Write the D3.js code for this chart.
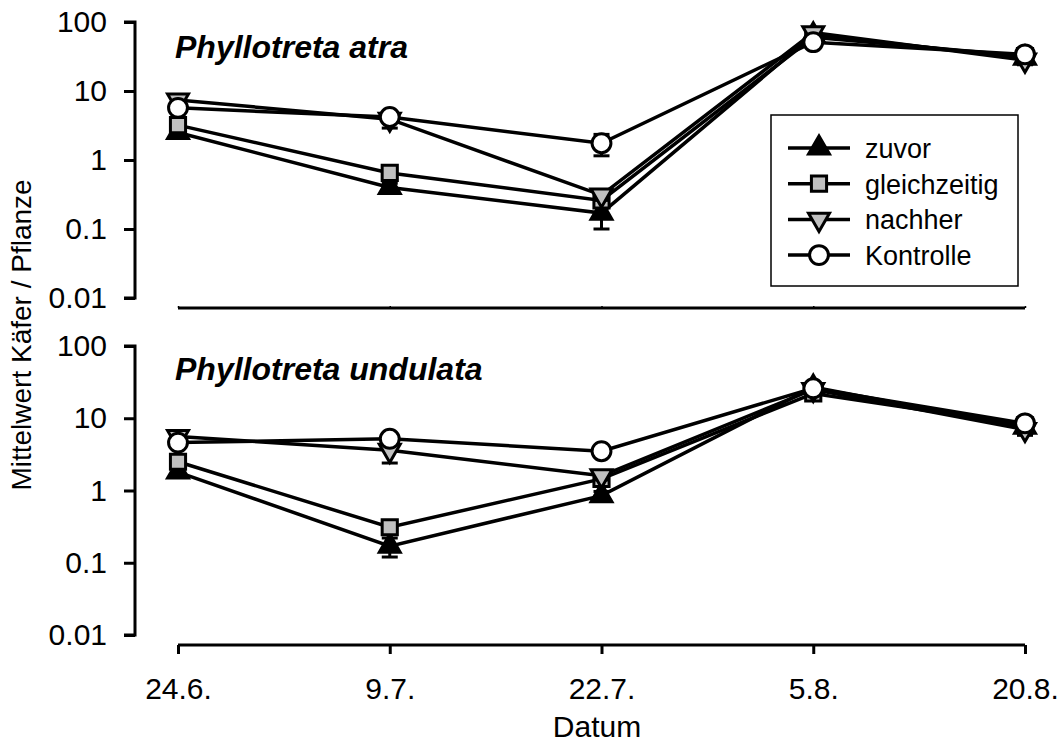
<!DOCTYPE html>
<html>
<head>
<meta charset="utf-8">
<script src="https://cdn.jsdelivr.net/npm/d3@7"></script>
<style>
  body { margin: 0; background: #fff; }
  svg { font-family: "Liberation Sans", Arial, sans-serif; }
</style>
</head>
<body>
<div id="chart"></div>
<script>
const dates = ["24.6.", "9.7.", "22.7.", "5.8.", "20.8."]
const seriesNames = ["zuvor", "gleichzeitig", "nachher", "Kontrolle"]
const yTicks = [0.01, 0.1, 1, 10, 100]

// Phyllotreta atra
const atraZuvor = [2.5, 0.4, 0.17, 65, 30]
const atraGleich = [3.2, 0.65, 0.26, 60, 32]
const atraNachher = [7.4, 3.9, 0.31, 70, 28]
const atraKontrolle = [5.7, 4.2, 1.75, 51, 34]
const atraZuvorSe = [0.4, 0.06, 0.07, 8, 4]
const atraGleichSe = [0.5, 0.1, 0.04, 8, 4]
const atraNachherSe = [1.5, 1.0, 0.05, 10, 4]
const atraKontrolleSe = [1.0, 0.6, 0.6, 8, 5]

// Phyllotreta undulata
const undZuvor = [1.8, 0.17, 0.85, 27, 7.5]
const undGleich = [2.5, 0.31, 1.45, 22, 8]
const undNachher = [5.6, 3.6, 1.6, 25, 7]
const undKontrolle = [4.6, 5.2, 3.5, 26, 8.5]
const undZuvorSe = [0.25, 0.05, 0.12, 3, 0.8]
const undGleichSe = [0.3, 0.04, 0.2, 3, 0.8]
const undNachherSe = [1.0, 1.2, 0.2, 3, 1.2]
const undKontrolleSe = [0.6, 0.9, 0.4, 3, 1.0]

const panels = [
  {title: "Phyllotreta atra", top: 22, bottom: 298, axisY: 308, titleY: 58,
   series: [atraZuvor, atraGleich, atraNachher, atraKontrolle],
   se: [atraZuvorSe, atraGleichSe, atraNachherSe, atraKontrolleSe]},
  {title: "Phyllotreta undulata", top: 346, bottom: 635, axisY: 645, titleY: 380,
   series: [undZuvor, undGleich, undNachher, undKontrolle],
   se: [undZuvorSe, undGleichSe, undNachherSe, undKontrolleSe]}
]

const width = 1062
const height = 742
const lineW = 3
const fontSize = 30

const svg = d3.select("#chart")
  .append("svg")
  .attr("width", width)
  .attr("height", height)

const x = d3.scalePoint()
  .domain(dates)
  .range([178, 1025])

// marker shapes
const markerStyle = [
  {type: d3.symbolTriangle, size: 190, fill: "#000"},
  {type: d3.symbolSquare, size: 230, fill: "#c0c0c0"},
  {type: d3.symbolTriangle, size: 190, fill: "#c0c0c0", flip: true},
  {type: d3.symbolCircle, size: 280, fill: "#fff"}
]

function drawMarker(g, i, cx, cy) {
  const m = markerStyle[i]
  g.append("path")
    .attr("d", d3.symbol().type(m.type).size(m.size)())
    .attr("transform", `translate(${cx},${cy})` + (m.flip ? " rotate(180)" : ""))
    .attr("fill", m.fill)
    .attr("stroke", "#000")
    .attr("stroke-width", 3)
}

panels.forEach((p, pi) => {
  const y = d3.scaleLog()
    .domain([0.01, 100])
    .range([p.bottom, p.top])

  const g = svg.append("g")

  // y axis
  const yAxis = g.append("g")
    .attr("transform", "translate(135,0)")
    .call(d3.axisLeft(y).tickValues(yTicks).tickSize(11)
      .tickFormat(d => d >= 1 ? d3.format("d")(d) : String(d)))
  yAxis.select(".domain").attr("stroke-width", lineW).attr("d", `M-11,${p.top}H0V${p.bottom}H-11`)
  yAxis.selectAll(".tick line").attr("stroke-width", lineW)
  yAxis.selectAll(".tick text").attr("font-size", fontSize).attr("fill", "#000").attr("x", -28)
    .attr("font-family", "Liberation Sans, Arial, sans-serif")

  // x axis
  const xAxis = g.append("g")
    .attr("transform", `translate(0,${p.axisY})`)
  if (pi === 1) {
    xAxis.call(d3.axisBottom(x).tickSize(9).tickPadding(24))
    xAxis.selectAll(".tick text").attr("font-size", fontSize).attr("fill", "#000")
      .attr("font-family", "Liberation Sans, Arial, sans-serif")
  } else {
    xAxis.call(d3.axisTop(x).tickSize(2).tickFormat(""))
  }
  xAxis.select(".domain").attr("stroke-width", lineW)
    .attr("d", `M${x.range()[0]},0H${x.range()[1]}`)
  xAxis.selectAll(".tick line").attr("stroke-width", pi === 1 ? lineW : 1.5)

  // title
  g.append("text")
    .attr("x", 175)
    .attr("y", p.titleY)
    .attr("font-size", 32)
    .attr("font-weight", "bold")
    .attr("font-style", "italic")
    .text(p.title)

  const line = d3.line()
    .x((d, i) => x(dates[i]))
    .y(d => y(d))

  p.series.forEach((vals, si) => {
    const sg = g.append("g")
    // error bars
    vals.forEach((v, i) => {
      const e = p.se[si][i]
      const cx = x(dates[i])
      const y0 = y(Math.max(v - e, 0.011))
      const y1 = y(v + e)
      sg.append("line").attr("x1", cx).attr("x2", cx).attr("y1", y0).attr("y2", y1)
        .attr("stroke", "#000").attr("stroke-width", 3)
      ;[y0, y1].forEach(yy => sg.append("line")
        .attr("x1", cx - 8).attr("x2", cx + 8).attr("y1", yy).attr("y2", yy)
        .attr("stroke", "#000").attr("stroke-width", 3))
    })
    sg.append("path")
      .datum(vals)
      .attr("d", line)
      .attr("fill", "none")
      .attr("stroke", "#000")
      .attr("stroke-width", 3.5)
    vals.forEach((v, i) => drawMarker(sg, si, x(dates[i]), y(v)))
  })
})

// y label
svg.append("text")
  .attr("transform", "translate(31,335) rotate(-90)")
  .attr("text-anchor", "middle")
  .attr("font-size", 28)
  .text("Mittelwert Käfer / Pflanze")

// x label
svg.append("text")
  .attr("x", 597)
  .attr("y", 737)
  .attr("text-anchor", "middle")
  .attr("font-size", fontSize)
  .text("Datum")

// legend
const legend = svg.append("g")
legend.append("rect")
  .attr("x", 771).attr("y", 115).attr("width", 247).attr("height", 171)
  .attr("fill", "#fff").attr("stroke", "#000").attr("stroke-width", 1.5)
seriesNames.forEach((name, i) => {
  const ly = 148 + i * 35.7
  legend.append("line")
    .attr("x1", 788).attr("x2", 850).attr("y1", ly).attr("y2", ly)
    .attr("stroke", "#000").attr("stroke-width", 3.5)
  drawMarker(legend, i, 819, ly)
  legend.append("text")
    .attr("x", 865).attr("y", ly + 10)
    .attr("font-size", 27)
    .text(name)
})
</script>
</body>
</html>
